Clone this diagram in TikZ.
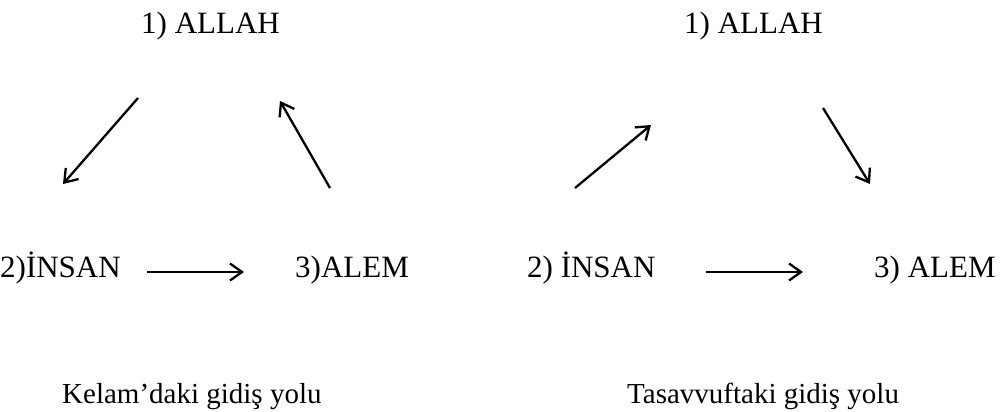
\documentclass[tikz,border=0pt]{standalone}
\usepackage{fontspec}
\setmainfont{Liberation Serif}
\usetikzlibrary{arrows.meta}
\begin{document}
\begin{tikzpicture}[x=1pt,y=-1pt,
  lbl/.style={anchor=base west,inner sep=0pt,font=\fontsize{31}{36}\selectfont},
  captxt/.style={anchor=base west,inner sep=0pt,font=\fontsize{29}{34}\selectfont},
  arr/.style={line width=2.3pt,-{Straight Barb[length=12pt,width=17pt,line width=2.3pt]}}]
\useasboundingbox[fill=white] (0,0) rectangle (1007,412);
% left
\node[lbl] (a1) at (141,34) {1) ALLAH};
\node[lbl] (i1) at (0,277) {2)İNSAN};
\node[lbl] (e1) at (295,277) {3)ALEM};
\node[captxt] (c1) at (62,403) {Kelam’daki gidiş yolu};
% right
\node[lbl] (a2) at (684,34) {1) ALLAH};
\node[lbl] (i2) at (527,277) {2) İNSAN};
\node[lbl] (e2) at (874,277) {3) ALEM};
\node[captxt] (c2) at (627,403) {Tasavvuftaki gidiş yolu};
% arrow end points
\coordinate (p1s) at (138,98);
\coordinate (p1e) at (63,184);
\coordinate (p2s) at (330,188);
\coordinate (p2e) at (280,101);
\coordinate (p3s) at (147,272);
\coordinate (p3e) at (244,272);
\coordinate (q1s) at (575,188);
\coordinate (q1e) at (651,125);
\coordinate (q2s) at (823,108);
\coordinate (q2e) at (870,184);
\coordinate (q3s) at (706,272);
\coordinate (q3e) at (803,272);
\draw[arr] (p1s) -- (p1e);
\draw[arr] (p2s) -- (p2e);
\draw[arr] (p3s) -- (p3e);
\draw[arr] (q1s) -- (q1e);
\draw[arr] (q2s) -- (q2e);
\draw[arr] (q3s) -- (q3e);
\end{tikzpicture}
\end{document}
